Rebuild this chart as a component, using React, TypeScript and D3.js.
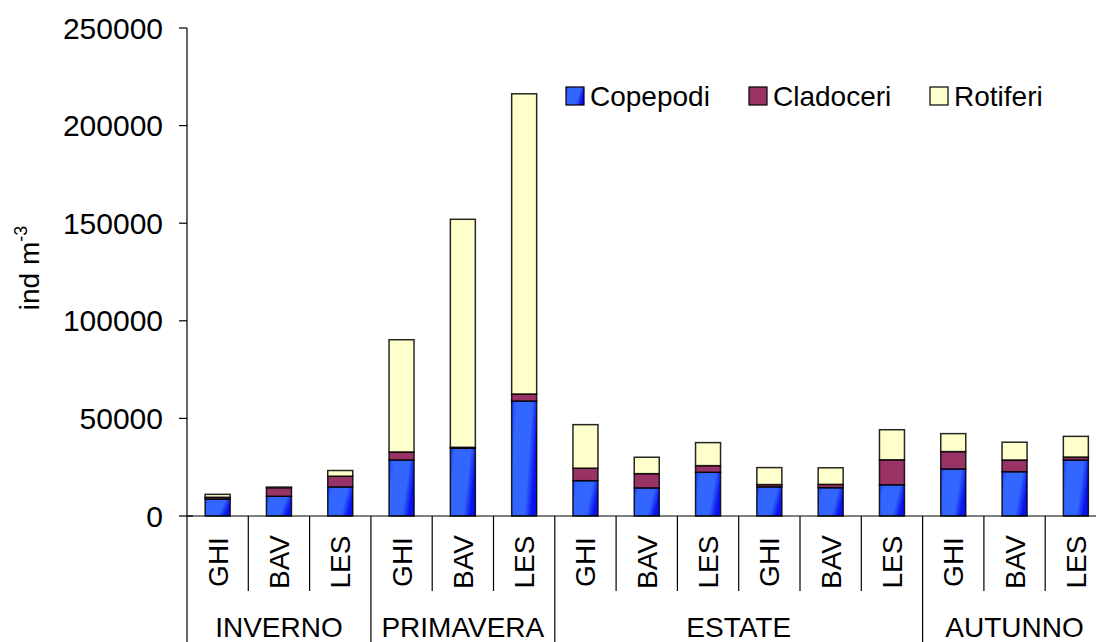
import React from "react";
import * as d3 from "d3";

const categories = ["GHI", "BAV", "LES", "GHI", "BAV", "LES", "GHI", "BAV", "LES", "GHI", "BAV", "LES", "GHI", "BAV", "LES"];
const groupNames = ["INVERNO", "PRIMAVERA", "ESTATE", "AUTUNNO"];
const groupSizes = [3, 3, 6, 3];
const seriesNames = ["Copepodi", "Cladoceri", "Rotiferi"];
const copepodi = [8700, 10100, 14900, 28700, 34700, 58900, 18100, 14400, 22400, 14900, 14500, 16000, 24100, 22700, 28700];
const cladoceri = [900, 4400, 5500, 4100, 500, 3600, 6400, 7300, 3400, 1200, 1700, 12800, 8900, 6000, 1500];
const rotiferi = [1500, 300, 2900, 57500, 116800, 153800, 22300, 8400, 11800, 8700, 8500, 15400, 9200, 9100, 10600];
const yTicks = [0, 50000, 100000, 150000, 200000, 250000];

const FONT = "'Liberation Sans', Arial, sans-serif";
const colors = ["url(#blueGrad)", "#993366", "#FFFFCC"];

export default function App() {
  const W = 1096, H = 642;
  const left = 187, bottom = 516, top = 28;
  const band = 61.3;
  const right = left + band * categories.length;
  const x = d3.scaleBand<number>().domain(d3.range(categories.length)).range([left, right]).paddingInner(0).paddingOuter(0);
  const y = d3.scaleLinear().domain([0, 250000]).range([bottom, top]);
  const barW = 25;

  const rows = categories.map((c, i) => ({ i, Copepodi: copepodi[i], Cladoceri: cladoceri[i], Rotiferi: rotiferi[i] }));
  const stack = d3.stack<any>().keys(seriesNames);
  const layers = stack(rows);

  const bounds: number[] = [0];
  groupSizes.forEach((s) => bounds.push(bounds[bounds.length - 1] + s));

  const legendX = [566, 749, 930];

  return (
    <svg width={W} height={H} style={{ position: "absolute", left: 0, top: 0, display: "block", background: "#fff" }} fontFamily={FONT}>
      <defs>
        <linearGradient id="blueGrad" x1="0" y1="0" x2="1" y2="0.3">
          <stop offset="0" stopColor="#1f44ff" />
          <stop offset="0.2" stopColor="#3366ff" />
          <stop offset="0.75" stopColor="#3366ff" />
          <stop offset="1" stopColor="#0a14f0" />
        </linearGradient>
      </defs>
      <rect x={0} y={0} width={W} height={H} fill="#fff" />

      {layers.map((layer, si) => (
        <g key={si}>
          {layer.map((d, i) => {
            const x0 = (x(i) as number) + band / 2 - barW / 2;
            const y0 = y(d[1]);
            const h = y(d[0]) - y(d[1]);
            return (
              <rect key={i} x={x0} y={y0} width={barW} height={Math.max(h, 0)} fill={colors[si]} stroke="#000" strokeWidth={1.5} strokeOpacity={0.85} />
            );
          })}
        </g>
      ))}

      <line x1={left} x2={left} y1={top} y2={bottom} stroke="#000" strokeWidth={1.2} />
      {yTicks.map((t) => (
        <g key={t}>
          <line x1={left - 8} x2={left + (t === 0 ? 6 : 0)} y1={y(t)} y2={y(t)} stroke="#000" strokeWidth={1.2} />
          <text x={163} y={y(t) + 10.5} textAnchor="end" fontSize={30} fill="#000">{t}</text>
        </g>
      ))}
      <text transform={`translate(39,268) rotate(-90)`} textAnchor="middle" fontSize={28} fill="#000">
        ind m<tspan fontSize={18} dy={-12}>-3</tspan>
      </text>

      <line x1={left} x2={right} y1={bottom} y2={bottom} stroke="#000" strokeWidth={1.2} />
      {d3.range(categories.length + 1).map((k) => {
        const xx = left + k * band;
        const isGroup = bounds.includes(k);
        return <line key={k} x1={xx} x2={xx} y1={bottom} y2={isGroup ? H : 591} stroke="#000" strokeWidth={1.2} />;
      })}
      {categories.map((c, i) => {
        const cx = (x(i) as number) + band / 2;
        return (
          <text key={i} transform={`translate(${cx + 10},562) rotate(-90)`} textAnchor="middle" fontSize={28} fill="#000">{c}</text>
        );
      })}
      {groupNames.map((g, gi) => {
        const cx = left + ((bounds[gi] + bounds[gi + 1]) / 2) * band;
        return (
          <text key={g} x={cx} y={637} textAnchor="middle" fontSize={28} fill="#000">{g}</text>
        );
      })}

      {seriesNames.map((s, si) => (
        <g key={s}>
          <rect x={legendX[si]} y={87} width={18} height={18} fill={colors[si]} stroke="#000" strokeWidth={1.2} />
          <text x={legendX[si] + 24} y={106} fontSize={28} fill="#000">{s}</text>
        </g>
      ))}
    </svg>
  );
}
